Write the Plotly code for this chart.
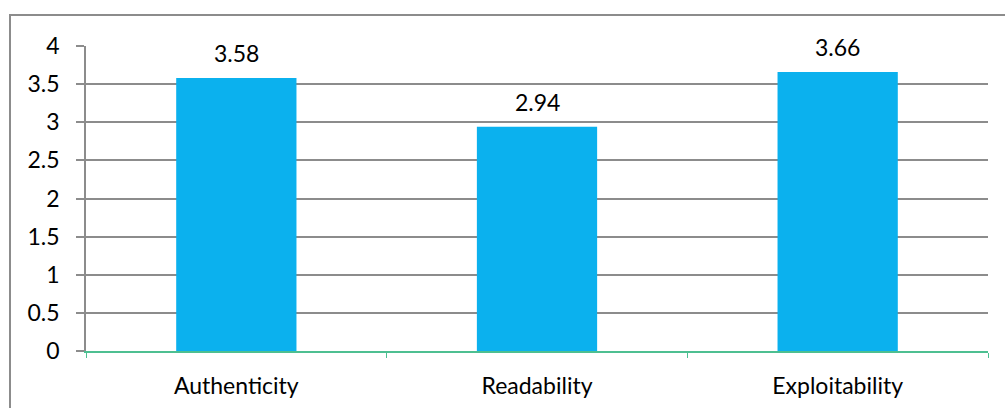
import plotly.graph_objects as go

categories = ["Authenticity", "Readability", "Exploitability"]
values = [3.58, 2.94, 3.66]
value_labels = ["3.58", "2.94", "3.66"]

FONT = "Lato, Calibri, Carlito, sans-serif"
BAR_COLOR = "#0BB1EE"
GRID = "#8C8C8C"

fig = go.Figure()
fig.add_trace(go.Bar(x=categories, y=values, marker=dict(color=BAR_COLOR, line=dict(width=0)),
                     width=0.4, hoverinfo="x+y"))

for c, v, t in zip(categories, values, value_labels):
    fig.add_annotation(x=c, y=v, text=t, showarrow=False, yshift=25,
                       font=dict(family=FONT, size=23, color="#000"))

fig.update_layout(
    width=1005, height=408,
    margin=dict(l=86, r=17, t=46, b=57),
    paper_bgcolor="white", plot_bgcolor="white",
    showlegend=False,
    font=dict(family=FONT, size=23, color="#000"),
    bargap=0.6,
    xaxis=dict(
        showgrid=False, showline=True, linecolor="#4DBF91", linewidth=2,
        ticks="outside", tickson="boundaries", ticklen=5, tickcolor="#4DBF91", tickwidth=1,
        tickfont=dict(family=FONT, size=23, color="#000"),
        ticklabelstandoff=13, automargin=False,
    ),
    yaxis=dict(
        range=[0, 4], dtick=0.5, tick0=0,
        showgrid=True, gridcolor=GRID, gridwidth=1.5,
        showline=True, linecolor=GRID, linewidth=1.5,
        ticks="outside", ticklen=8, tickcolor=GRID, tickwidth=1.5,
        zeroline=False,
        tickfont=dict(family=FONT, size=23, color="#000"),
        ticklabelstandoff=12, automargin=False,
    ),
    shapes=[dict(type="rect", xref="paper", yref="paper",
                 x0=(10 - 86) / 902, x1=(1010 - 86) / 902,
                 y0=(351 - 420) / 305, y1=(351 - 15) / 305,
                 line=dict(color="#8C8C8C", width=2), fillcolor="rgba(0,0,0,0)", layer="below")],
)

fig.write_html("out.html")
